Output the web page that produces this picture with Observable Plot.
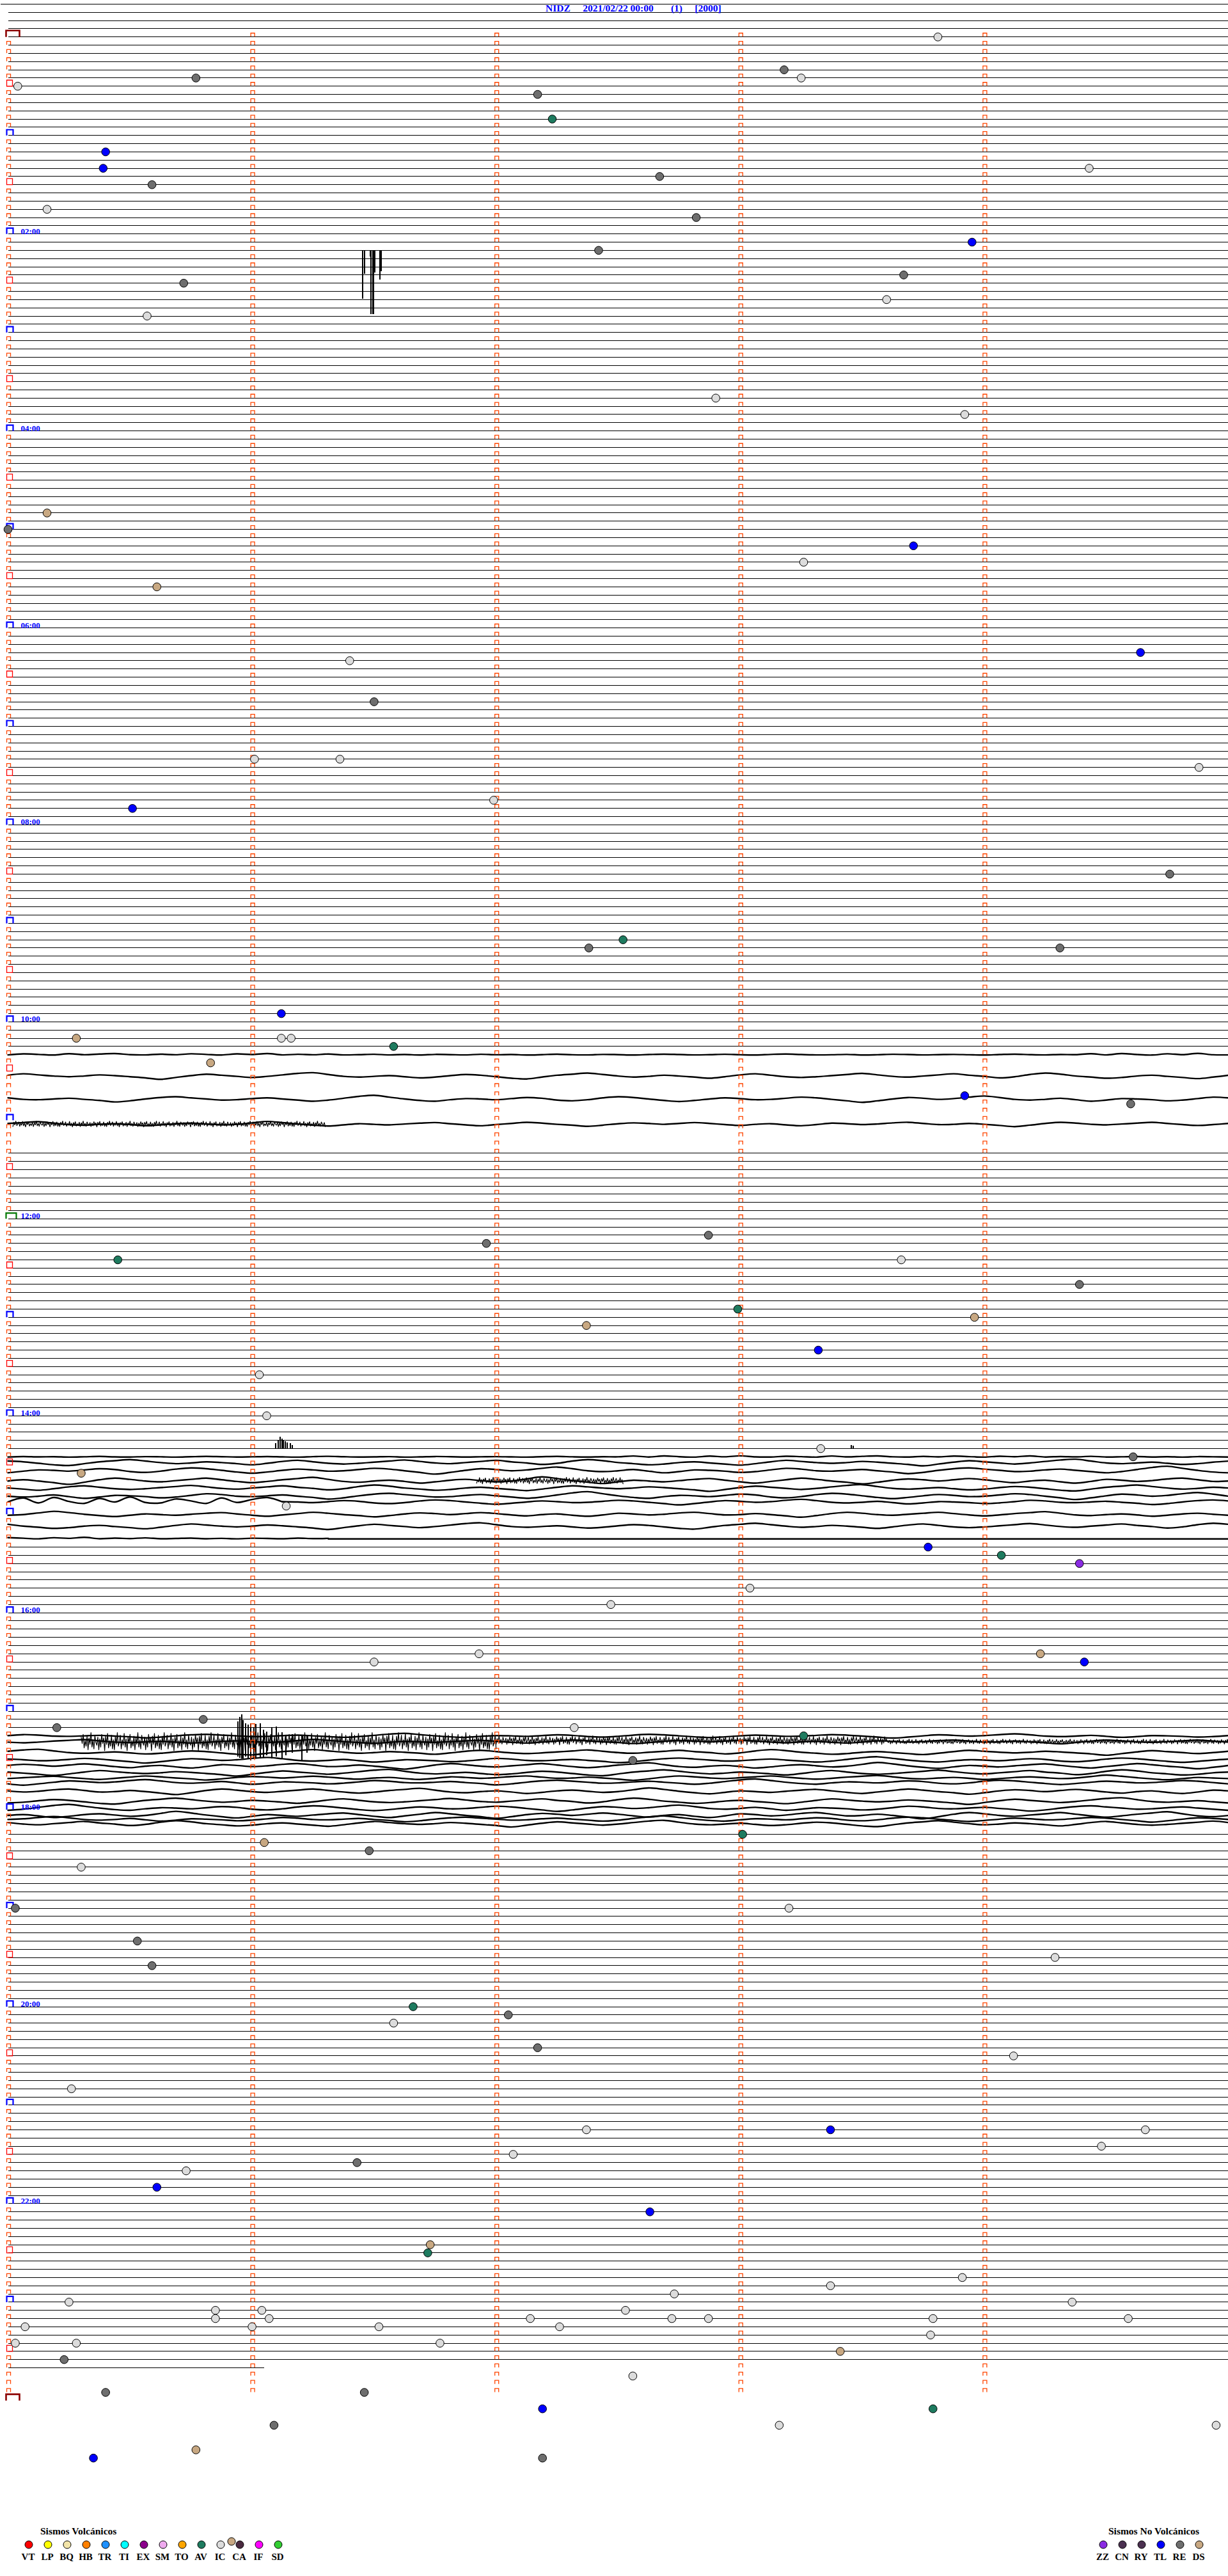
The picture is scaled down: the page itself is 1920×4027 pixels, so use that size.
<!DOCTYPE html>
<html><head><meta charset="utf-8">
<script src="https://cdn.jsdelivr.net/npm/d3@7"></script>
<script src="https://cdn.jsdelivr.net/npm/@observablehq/plot@0.6"></script>
<style>
body{margin:0;background:#fff;}
#wrap{position:relative;width:1920px;height:4027px;overflow:hidden;font-family:"Liberation Serif","Times New Roman",serif;background:#fff;}
#chart{position:absolute;top:0;left:0;}
#title{position:absolute;top:5px;left:853px;font-weight:bold;font-size:15.5px;line-height:16px;color:#0000FF;white-space:pre;}
#legend{position:absolute;top:3900px;left:0;}
</style></head><body>
<div id="wrap"><div id="chart"></div><div id="title"></div><svg id="legend"></svg></div>
<script>
// ---------- title ----------
const station = "NIDZ";
const dateLabel = "2021/02/22 00:00";
const seqLabel = "(1)";
const scaleLabel = "[2000]";

// ---------- hour labels ----------
const hourLabels = ["02:00","04:00","06:00","08:00","10:00","12:00","14:00","16:00","18:00","20:00","22:00"];

// ---------- rows (5 min per row) ----------
const firstRow = -4;
const lastRow = 284;          // last row with data
const lastRowEnd = 1.05;      // minutes of data in last row
const markerLastRow = 287;
const missingRows = [125,127,128,130,131,133,134,135,182];

// ---------- waveform shapes (80 samples per 5-minute row) ----------
const wave0 = [0,-.3,-.6,-.2,.1,.5,.2,-.4,-.8,-.5, 0,.3,.6,.4,0,-.2,.1,.4,.7,.3, -.2,-.6,-.3,0,.2,0,-.3,-.1,.2,.5, .9,.4,-.1,-.5,-.2,.1,.4,.1,-.3,-.7, -.9,-.4,.1,.3,.1,-.1,.2,.5,.3,-.1, -.4,-.2,.2,.6,.8,.3,-.2,-.5,-.8,-.4, 0,.3,.1,-.2,0,.3,.6,.2,-.3,-.6, -.2,.2,.4,.2,-.1,-.4,-.7,-.3,.1,.3];
const wave1 = [.2,.5,.3,-.1,-.5,-.3,.1,.2,0,-.2, .1,.4,.8,.5,0,-.4,-.6,-.3,0,.3, .2,-.1,-.3,0,.3,.6,.3,-.2,-.7,-1, -.5,0,.4,.6,.2,-.1,0,.2,-.1,-.4, -.2,.3,.5,.2,-.3,-.6,-.4,0,.4,.7, .4,0,-.3,-.1,.2,.1,-.2,-.5,-.3,.1, .5,.9,.5,0,-.4,-.2,.1,-.1,-.5,-.8, -.4,.1,.3,.1,-.2,.2,.6,.3,-.1,0];
const wave2 = [-.1,.3,.6,.2,-.3,-.1,.2,0,-.4,-.6, -.2,.2,.1,-.2,.1,.5,.9,.4,-.2,-.6, -.3,.1,.3,0,-.3,-.6,-.2,.2,.5,.2, -.2,-.5,-.8,-.3,.2,.4,.1,-.1,.2,.6, .3,-.1,-.3,0,.3,.1,-.4,-.9,-.5,0, .4,.7,.3,-.1,.1,.3,0,-.3,-.5,-.1, .3,.6,.2,-.2,-.6,-.3,.1,.4,.8,.4, -.1,-.4,-.2,.1,-.2,-.5,-.2,.2,.5,.1];
const wave3 = [0,-.8,.2,-.9,-.1,.3,-.7,0,-1,.1, .2,-.6,-.2,.3,-.8,.1,-.5,-.9,0,.2, -.4,.1,-.7,-.2,.3,-.6,-.1,-.9,.2,-.3, .1,-.5,.2,0,-.3,.2,-.1,.3,-.2,0, .2,-.3,.1,-.1,.3,0,-.4,.1,.2,-.2, 0,.3,-.1,-.4,-.1,.2,0,-.3,.1,.3, -.2,-.5,-.1,.2,.1,-.2,.3,.1,-.3,-.1, .2,0,-.2,.1,.3,-.1,-.4,0,.2,-.1];
const waves = [wave0, wave1, wave2, wave3];
const noise = [.9,-.6,.3,-1,.5,.1,-.7,.8,-.2,.4,-.9,.6,-.3,1,-.5,.2,-.8,.7,-.1,.5,-.6,.9,-.4,.3,-1,.6,-.2,.8,-.7,.1,.4,-.5,.9,-.3,.6,-.8,.2,-.4,1,-.6,.3,-.9,.7,-.1,.5,-.7,.8,-.2];

// active traces: [row, offset (rows), amplitude (rows), wave, phase, from min, to min]
const traces = [
  [124, 0, 0.15, 3, 10, 0, 5],
  [126, 0.6, 0.45, 0, 20, 0, 5],
  [129, 0.4, 0.45, 1, 5, 0, 5],
  [132, 0.45, 0.35, 2, 30, 0, 5],
  [173, 0, 0.12, 3, 40, 0, 5],
  [174, -0.3, 0.45, 0, 50, 0, 5],
  [175, -0.35, 0.5, 1, 33, 0, 5],
  [176, -0.1, 0.5, 2, 12, 0, 5],
  [177, -0.2, 0.45, 0, 64, 0, 5],
  [178, -0.25, 0.5, 1, 71, 0, 5],
  [179, -0.5, 0.6, 3, 0, 0, 1.1],
  [179, -0.5, 0.4, 1, 17, 1.1, 5],
  [180, 0, 0.4, 2, 44, 0, 5],
  [181, 0.45, 0.45, 0, 9, 0, 5],
  [183, -0.05, 0.15, 3, 22, 0, 1.3],
  [183, 0, 0, 0, 0, 1.3, 5],
  [207, 0, 0.3, 1, 3, 0, 5],
  [208, -0.3, 0.3, 2, 27, 0, 5],
  [209, 0, 0.4, 0, 38, 0, 5],
  [210, -0.05, 0.4, 1, 52, 0, 5],
  [211, -0.35, 0.45, 2, 70, 0, 5],
  [212, -0.5, 0.45, 0, 15, 0, 5],
  [212, 0.1, 0.35, 2, 55, 0, 5],
  [213, -0.35, 0.4, 1, 60, 0, 5],
  [214, -0.25, 0.45, 2, 5, 0, 5],
  [215, -0.05, 0.45, 0, 47, 0, 5],
  [216, -0.2, 0.45, 1, 25, 0, 5],
  [217, -0.35, 0.5, 2, 36, 0, 5],
  [217, 0.15, 0.4, 1, 66, 0, 5],
  [218, -0.3, 0.45, 0, 77, 0, 5]
];
// noisy bursts: [row, offset, amplitude, from min, to min]
const bursts = [
  [132, 0.45, 0.35, 0.02, 1.3],
  [176, -0.1, 0.4, 1.92, 2.52],
  [207, 0.7, 1.1, 0.3, 2.0],
  [207, 0.55, 0.55, 2.0, 3.6],
  [208, -0.3, 0.3, 3.6, 5]
];
// large spikes: [minute, top row, bottom row]
const spikes = [
  [1.452,26,31.9],[1.460,26,28.9],[1.484,26,26.8],[1.487,26,33.8],[1.494,26,33.8],[1.497,26,33.8],[1.502,26,28.7],[1.523,26,29.6],[1.530,26,28.6],
  [1.098,171.4,172],[1.106,171.0,172],[1.114,170.6,172],[1.122,170.8,172],[1.129,171.0,172],[1.137,171.1,172],[1.145,171.3,172],[1.156,171.4,172],[1.166,171.6,172],
  [3.455,171.6,172],[3.462,171.7,172],
  [0.943,205.3,209.6],[0.951,204.7,209.7],[0.957,204.4,209.8],[0.964,205.1,209.8],[0.973,205.5,209.6],[0.984,205.7,209.8],[0.995,205.5,210.0],[1.008,206.0,209.8],[1.016,205.6,209.7],[1.034,205.5,209.8],[1.047,206.3,209.7],[1.060,206.5,209.4],[1.082,206.0,209.8],[1.100,205.9,209.6],[1.122,206.6,209.8],[1.139,206.9,209.4],[1.165,206.8,209.1],[1.205,207.1,210.0],[1.226,207.1,209.1]
];

// ---------- events: [minutes since 00:00, type] ----------
const events = [
 [3.81,"IC"],[23.18,"RE"],[25.77,"RE"],[28.25,"IC"],[30.04,"IC"],[37.17,"RE"],[52.23,"AV"],[70.40,"TL"],[80.39,"TL"],[84.43,"IC"],
 [87.67,"RE"],[90.59,"RE"],[105.16,"IC"],[112.82,"RE"],[128.95,"TL"],[132.42,"RE"],[148.67,"RE"],[150.72,"RE"],[163.60,"IC"],[170.57,"IC"],
 [222.90,"IC"],[233.92,"IC"],[290.16,"DS"],[300.00,"RE"],[313.71,"TL"],[323.26,"IC"],[335.61,"DS"],[379.64,"TL"],[381.40,"IC"],[406.50,"RE"],
 [441.01,"IC"],[441.36,"IC"],[449.88,"IC"],[466.99,"IC"],[470.51,"TL"],[514.76,"RE"],[552.52,"AV"],[557.38,"RE"],[559.31,"RE"],[596.12,"TL"],
 [610.28,"DS"],[611.12,"IC"],[611.16,"IC"],[616.58,"AV"],[625.83,"DS"],[648.92,"TL"],[654.60,"RE"],[732.87,"RE"],[736.96,"RE"],[745.45,"AV"],
 [748.66,"IC"],[764.39,"RE"],[777.99,"AV"],[783.96,"DS"],[787.37,"DS"],[803.32,"TL"],[816.03,"IC"],[841.06,"IC"],[863.33,"IC"],[869.61,"RE"],
 [875.30,"DS"],[896.14,"IC"],[923.77,"TL"],[929.07,"AV"],[934.39,"ZZ"],[948.04,"IC"],[957.47,"IC"],[986.93,"IC"],[989.23,"DS"],[991.50,"IC"],
 [994.41,"TL"],[1025.80,"RE"],[1030.20,"RE"],[1032.32,"IC"],[1038.26,"AV"],[1052.56,"RE"],[1098.01,"AV"],[1101.05,"DS"],[1106.48,"RE"],[1115.30,"IC"],
 [1140.03,"RE"],[1143.20,"IC"],[1160.53,"RE"],[1174.29,"IC"],[1175.59,"RE"],[1201.66,"AV"],[1207.05,"RE"],[1211.58,"IC"],[1227.17,"RE"],[1234.12,"IC"],
 [1250.26,"IC"],[1277.37,"IC"],[1278.37,"TL"],[1279.66,"IC"],[1289.48,"IC"],[1292.07,"IC"],[1296.43,"RE"],[1300.73,"IC"],[1310.61,"TL"],[1327.63,"TL"],
 [1346.73,"DS"],[1351.72,"AV"],[1368.91,"IC"],[1373.37,"IC"],[1377.73,"IC"],[1380.25,"IC"],[1384.36,"IC"],[1385.85,"IC"],[1386.04,"IC"],[1387.53,"IC"],
 [1390.85,"IC"],[1391.07,"IC"],[1392.14,"IC"],[1392.72,"IC"],[1392.87,"IC"],[1393.79,"IC"],[1394.59,"IC"],[1395.07,"IC"],[1396.00,"IC"],[1396.52,"IC"],
 [1397.26,"IC"],[1403.78,"IC"],[1405.03,"IC"],[1405.28,"IC"],[1406.77,"IC"],[1413.41,"DS"],[1415.23,"RE"],[1427.56,"IC"],[1435.40,"RE"],[1436.46,"RE"],
 [1447.19,"TL"],[1448.79,"AV"],[1456.09,"RE"],[1458.16,"IC"],[1459.95,"IC"],[1470.77,"DS"],[1475.35,"TL"],[1477.19,"RE"]
];

// ---------- legend ----------
const volcanicCodes  = ["VT","LP","BQ","HB","TR","TI","EX","SM","TO","AV","IC","CA","IF","SD"];
const volcanicColors = ["#FF0000","#FFFF00","#F2E4A8","#FF8000","#1E90FF","#00FFFF","#8B008B","#EEAAEE","#FFA500","#1E7B5F","#DCDCDC","#4A2A40","#FF00FF","#32CD32"];
const caSecondColor = "#C8A882";
const nonVolcanicCodes  = ["ZZ","CN","RY","TL","RE","DS"];
const nonVolcanicColors = ["#8A2BE2","#4B3050","#4B3050","#0000FF","#6E6E6E","#C8A882"];
const legendTitles = ["Sismos Volcánicos","Sismos No Volcánicos"];

// ---------- layout ----------
const W = 1920, H = 3900;
const MIN_PX = 381.6, X_OFF = 12, ROW_PX = 12.83, ROW0 = 57.3;

const typeColor = {};
volcanicCodes.forEach((c,i)=> typeColor[c] = volcanicColors[i]);
nonVolcanicCodes.forEach((c,i)=> typeColor[c] = nonVolcanicColors[i]);

// title
document.getElementById("title").textContent =
  station + "     " + dateLabel + "       " + seqLabel + "     " + scaleLabel;

// baselines
const traceRows = new Set(traces.map(t => t[0]));
const xStart = -X_OFF / MIN_PX, xEnd = (W - X_OFF) / MIN_PX;
const baselines = d3.range(firstRow, lastRow + 1)
  .filter(r => !missingRows.includes(r) && !traceRows.has(r))
  .map(r => ({row: r, x0: r === firstRow ? xStart : 0, x1: r === lastRow ? lastRowEnd : 5}));

// traces
const tracePts = [];
traces.forEach((t, k) => {
  const [row, dy, amp, w, shift, x0, x1] = t;
  const wv = waves[w];
  for (let i = Math.round(x0 * 16); i <= Math.round(x1 * 16); i++)
    tracePts.push({id: k, x: i / 16, y: row + dy + amp * wv[(i + shift) % wv.length]});
});
const burstPts = [];
bursts.forEach((b, k) => {
  const [row, dy, amp, x0, x1] = b;
  const n = Math.round((x1 - x0) / 0.004);
  for (let j = 0; j <= n; j++)
    burstPts.push({id: k, x: x0 + j * 0.004, y: row + dy + amp * noise[(j + k * 7) % noise.length]});
});

// minute / hour markers
const markers = [];
for (let r = 0; r <= markerLastRow; r++) for (let m = 0; m < 5; m++) {
  let kind = "min";
  if (m === 0) {
    if (r % 288 === 0) kind = "day";
    else if (r === 144) kind = "noon";
    else if (r % 12 === 0) kind = "hour";
    else if (r % 6 === 0) kind = "half";
  }
  markers.push({row: r, m, kind});
}
markers.push({row: 288, m: 0, kind: "day"});
const cap = (w, h) => ({draw(ctx) { ctx.moveTo(-w/2, h/2); ctx.lineTo(-w/2, -h/2); ctx.lineTo(w/2, -h/2); ctx.lineTo(w/2, h/2); }});
const box = (w, h) => ({draw(ctx) { ctx.moveTo(-w/2, h/2); ctx.lineTo(-w/2, -h/2); ctx.lineTo(w/2, -h/2); ctx.lineTo(w/2, h/2); ctx.closePath(); }});
const mk = (kind) => markers.filter(d => d.kind === kind);

const hourRows = hourLabels.map(l => ({row: parseInt(l, 10) * 12, label: l}));

const evPts = events.map(([t, code]) => {
  const row = Math.floor(t / 5 + 1e-9);
  return {x: t - row * 5, y: row, code};
});

const chart = Plot.plot({
  width: W, height: H,
  margin: 0,
  style: {background: "white", overflow: "visible"},
  x: {domain: [xStart, xEnd], range: [0, W], axis: null},
  y: {domain: [-ROW0 / ROW_PX, (H - ROW0) / ROW_PX], range: [0, H], axis: null},
  color: {type: "identity"},
  marks: [
    Plot.link(baselines, {x1: "x0", x2: "x1", y1: "row", y2: "row", stroke: "black", strokeWidth: 1, shapeRendering: "crispEdges"}),
    Plot.line(tracePts, {x: "x", y: "y", z: "id", curve: "catmull-rom", stroke: "black", strokeWidth: 2.4}),
    Plot.line(burstPts, {x: "x", y: "y", z: "id", stroke: "black", strokeWidth: 1.2}),
    Plot.ruleX(spikes, {x: d => d[0], y1: d => d[1], y2: d => d[2], stroke: "black", strokeWidth: 2, shapeRendering: "crispEdges"}),
    Plot.dot(mk("min"), {x: "m", y: "row", symbol: cap(6, 5.5), dx: 1, dy: -3.3, fill: "none", stroke: "#FF4500", strokeWidth: 1.3}),
    Plot.dot(mk("half"), {x: "m", y: "row", symbol: box(9, 9.5), dx: 2.5, dy: -4.8, fill: "none", stroke: "#FF0000", strokeWidth: 1.3}),
    Plot.dot(mk("hour"), {x: "m", y: "row", symbol: cap(10, 9), dx: 3, dy: -4.5, fill: "none", stroke: "#0000FF", strokeWidth: 2.2}),
    Plot.dot(mk("noon"), {x: "m", y: "row", symbol: cap(16, 9), dx: 5, dy: -4.5, fill: "none", stroke: "#007700", strokeWidth: 2.2}),
    Plot.dot(mk("day"), {x: "m", y: "row", symbol: cap(21, 10), dx: 7.5, dy: -5, fill: "none", stroke: "#8B0000", strokeWidth: 2.6}),
    Plot.text(hourRows, {x: 0, y: "row", text: "label", dx: 20, dy: 0, textAnchor: "start", lineAnchor: "bottom",
      fill: "#0000FF", fontWeight: "bold", fontSize: 13, fontFamily: "Liberation Serif"}),
    Plot.dot(evPts, {x: "x", y: "y", r: 6.3, fill: d => typeColor[d.code], stroke: "black", strokeWidth: 1})
  ]
});
document.getElementById("chart").appendChild(chart);

// legend
const leg = d3.select("#legend").attr("width", W).attr("height", 127)
  .style("font-family", "'Liberation Serif', serif").style("font-weight", "bold");
function legendGroup(x0, titleX, title, codes, colors, extra) {
  leg.append("text").attr("x", titleX).attr("y", 62).attr("font-size", 15.5).text(title);
  codes.forEach((c, i) => {
    const cx = x0 + 30 * i;
    if (extra && c === extra.code)
      leg.append("circle").attr("cx", cx - 13).attr("cy", 73).attr("r", 6).attr("fill", extra.color).attr("stroke", "black");
    leg.append("circle").attr("cx", cx).attr("cy", 78).attr("r", 6).attr("fill", colors[i]).attr("stroke", "black");
    leg.append("text").attr("x", cx - 1).attr("y", 102).attr("font-size", 15).attr("text-anchor", "middle").text(c);
  });
}
legendGroup(45, 63, legendTitles[0], volcanicCodes, volcanicColors, {code: "CA", color: caSecondColor});
legendGroup(1725, 1733, legendTitles[1], nonVolcanicCodes, nonVolcanicColors);
</script></body></html>
